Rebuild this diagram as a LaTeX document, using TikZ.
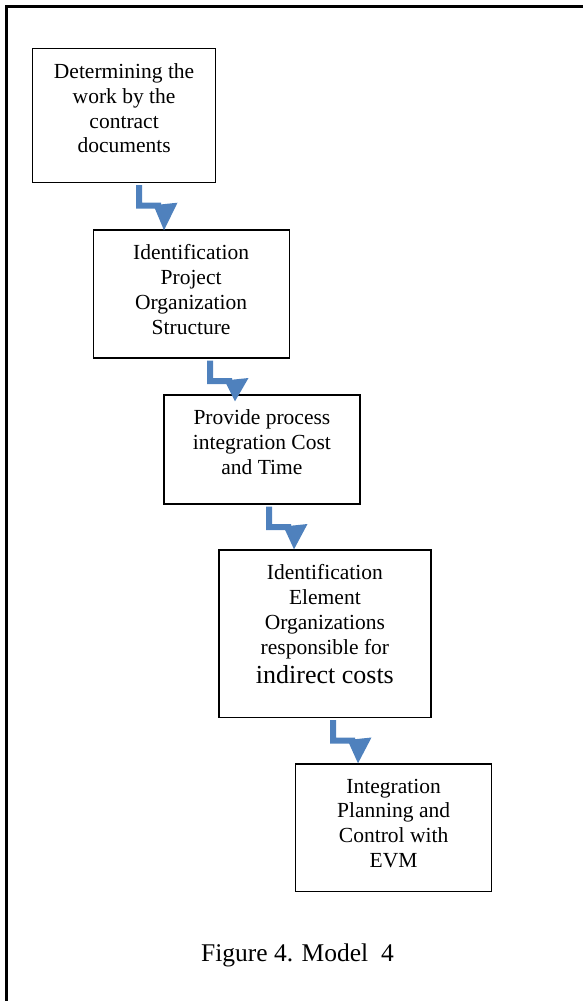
\documentclass[tikz,border=0pt]{standalone}
\usepackage{fontspec}
\setmainfont{Liberation Serif}
\usetikzlibrary{calc}
\definecolor{arrowblue}{RGB}{79,129,189}
\tikzset{
  frameline/.style={line width=2.2pt, line cap=rect},
  box/.style={draw, line width=1.2pt, anchor=north west, inner sep=0pt},
  boxtext/.style={anchor=north, align=center, inner sep=0pt, font=\fontsize{21.5}{24.8}\selectfont},
  captext/.style={inner sep=0pt, font=\fontsize{25.5}{29}\selectfont},
  arrowfill/.style={fill=arrowblue}
}
% #1 source node, #2 target node, #3 x offset of the bar from source's left side, #4 tip depth below target top
\newcommand\bentarr[4]{%
  \fill[arrowfill] let \p1=(#1.south west), \p2=(#2.north) in
    (\x1+#3pt, \y1-2pt) -- (\x1+#3pt+6pt, \y1-2pt) -- (\x1+#3pt+6pt, \y1-19.5pt)
    -- (\x1+#3pt+25pt, \y1-19.5pt) -- (\x1+#3pt+25pt, \y1-25.5pt) -- (\x1+#3pt, \y1-25.5pt) -- cycle;
  \fill[arrowfill] let \p1=(#1.south west), \p2=(#2.north) in
    (\x1+#3pt+17.5pt, \y1-22pt) -- (\x1+#3pt+41.5pt, \y1-19.5pt) -- (\x1+#3pt+28pt, \y2-#4pt) -- cycle;
}
\begin{document}
\begin{tikzpicture}[x=1pt,y=-1pt]
\useasboundingbox (0,0) rectangle (582,1001);
\draw[frameline] (6.5,1001) -- (6.5,6.5) -- (582,6.5);

\node[box, minimum width=183pt, minimum height=134pt] (b1) at (32,48) {};
\node[boxtext] (t1) at ($(b1.north)+(0,15.3)$) {Determining the\\work by the\\contract\\documents};

\node[box, minimum width=196pt, minimum height=128pt] (b2) at (92.5,229.3) {};
\node[boxtext] (t2) at ($(b2.north)+(0,15.3)$) {Identification\\Project\\Organization\\Structure};

\node[box, minimum width=196pt, minimum height=109pt] (b3) at (163.3,394.3) {};
\node[boxtext] (t3) at ($(b3.north)+(0,15.3)$) {Provide process\\integration Cost\\and Time};

\node[box, minimum width=212pt, minimum height=167.5pt] (b4) at (218.3,549.3) {};
\node[boxtext] (t4) at ($(b4.north)+(0,15.3)$) {Identification\\Element\\Organizations\\responsible for\\[4.2pt]{\fontsize{26}{29}\selectfont indirect costs}};

\node[box, minimum width=196pt, minimum height=127.5pt] (b5) at (295,763.3) {};
\node[boxtext] (t5) at ($(b5.north)+(0,15.3)$) {Integration\\Planning and\\Control with\\EVM};

\bentarr{b1}{b2}{104}{1}
\bentarr{b2}{b3}{114.5}{7}
\bentarr{b3}{b4}{102.7}{0}
\bentarr{b4}{b5}{111.7}{0}

\node[captext, anchor=base] (cap) at (297.5,961) {Figure 4. Model\ \ 4};
\end{tikzpicture}
\end{document}
